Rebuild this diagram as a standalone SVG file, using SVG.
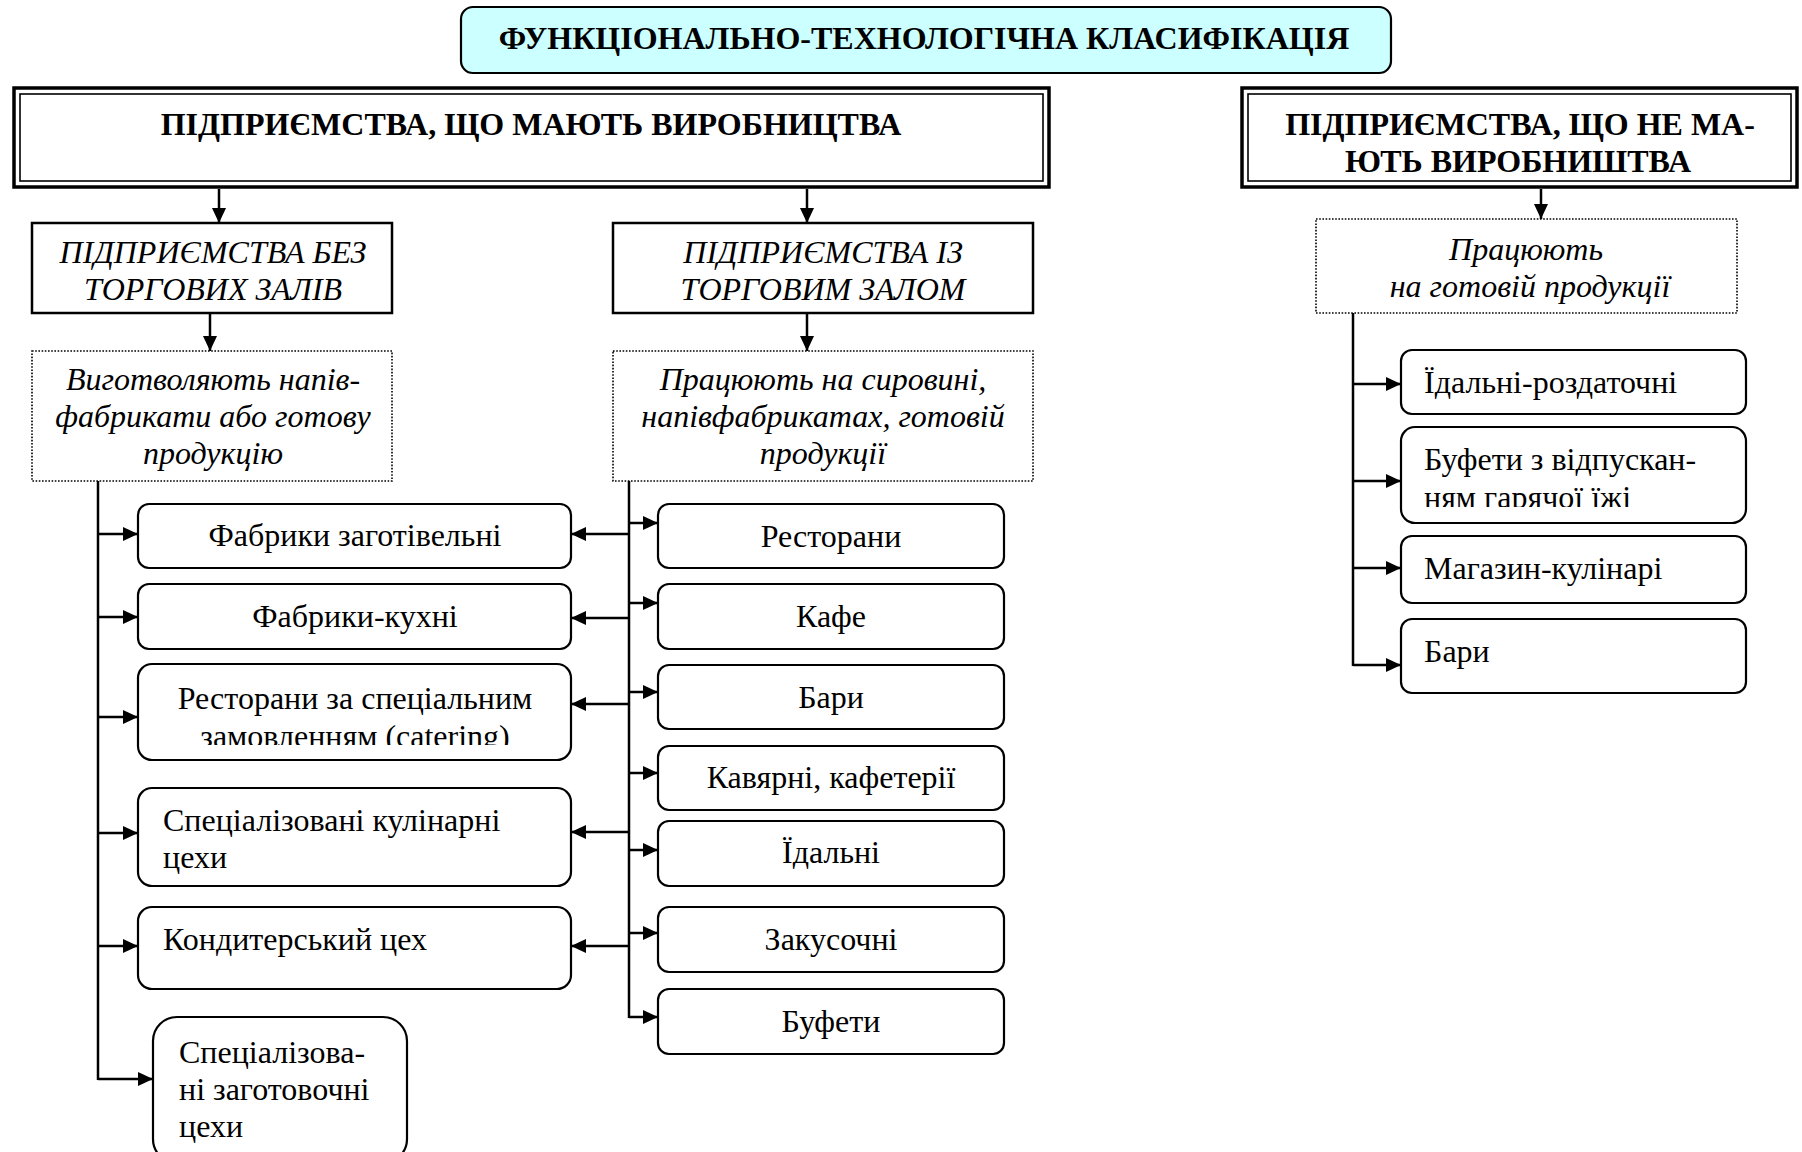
<svg xmlns="http://www.w3.org/2000/svg" width="1802" height="1152" viewBox="0 0 1802 1152">
  <style>
    text { font-family: "Liberation Serif", "Times New Roman", serif; font-size: 32px; fill: #000; }
    .b { font-weight: bold; }
    .i { font-style: italic; }
    .c { text-anchor: middle; }
    .box { fill: #fff; stroke: #000; stroke-width: 2.5; }
    .rbox { fill: #fff; stroke: #000; stroke-width: 2.2; }
    .outer { fill: #fff; stroke: #000; stroke-width: 3.5; }
    .inner { fill: none; stroke: #000; stroke-width: 1.6; }
    .dot { fill: #fff; stroke: #000; stroke-width: 1.6; stroke-dasharray: 1.6 1.6; }
    .ln { fill: none; stroke: #000; stroke-width: 2.5; }
    .arr { fill: none; stroke: #000; stroke-width: 2.5; marker-end: url(#ah); }
  </style>
  <defs>
    <marker id="ah" viewBox="0 0 15 14" refX="15" refY="7" markerWidth="15" markerHeight="14" markerUnits="userSpaceOnUse" orient="auto">
      <path d="M0,0 L15,7 L0,14 z" fill="#000"/>
    </marker>
    <clipPath id="clipCatering"><rect x="138" y="664" width="433" height="81"/></clipPath>
    <clipPath id="clipBuffet"><rect x="1401" y="427" width="345" height="80"/></clipPath>
  </defs>

  <rect width="1802" height="1152" fill="#fff"/>

  <!-- connectors -->
  <g id="connectors">
    <line class="arr" x1="219" y1="189" x2="219" y2="223"/>
    <line class="arr" x1="807" y1="189" x2="807" y2="223"/>
    <line class="arr" x1="1541" y1="189" x2="1541" y2="219"/>
    <line class="arr" x1="210" y1="313" x2="210" y2="351"/>
    <line class="arr" x1="807" y1="313" x2="807" y2="351"/>

    <!-- left trunk -->
    <line class="ln" x1="98" y1="481" x2="98" y2="1080"/>
    <line class="arr" x1="98" y1="534" x2="138" y2="534"/>
    <line class="arr" x1="98" y1="617" x2="138" y2="617"/>
    <line class="arr" x1="98" y1="717" x2="138" y2="717"/>
    <line class="arr" x1="98" y1="833" x2="138" y2="833"/>
    <line class="arr" x1="98" y1="946" x2="138" y2="946"/>
    <line class="arr" x1="98" y1="1079" x2="153" y2="1079"/>

    <!-- middle trunk -->
    <line class="ln" x1="629" y1="481" x2="629" y2="1018"/>
    <line class="arr" x1="629" y1="523" x2="658" y2="523"/>
    <line class="arr" x1="629" y1="603" x2="658" y2="603"/>
    <line class="arr" x1="629" y1="692" x2="658" y2="692"/>
    <line class="arr" x1="629" y1="773" x2="658" y2="773"/>
    <line class="arr" x1="629" y1="850" x2="658" y2="850"/>
    <line class="arr" x1="629" y1="933" x2="658" y2="933"/>
    <line class="arr" x1="629" y1="1017" x2="658" y2="1017"/>
    <line class="arr" x1="629" y1="534" x2="571" y2="534"/>
    <line class="arr" x1="629" y1="618" x2="571" y2="618"/>
    <line class="arr" x1="629" y1="704" x2="571" y2="704"/>
    <line class="arr" x1="629" y1="832" x2="571" y2="832"/>
    <line class="arr" x1="629" y1="946" x2="571" y2="946"/>

    <!-- right trunk -->
    <line class="ln" x1="1353" y1="313" x2="1353" y2="666"/>
    <line class="arr" x1="1353" y1="384" x2="1401" y2="384"/>
    <line class="arr" x1="1353" y1="481" x2="1401" y2="481"/>
    <line class="arr" x1="1353" y1="568" x2="1401" y2="568"/>
    <line class="arr" x1="1353" y1="665" x2="1401" y2="665"/>
  </g>

  <!-- top heading -->
  <g id="title">
    <rect x="461" y="7" width="930" height="66" rx="12" fill="#ccffff" stroke="#000" stroke-width="2.2"/>
    <text class="b c" x="924" y="49">ФУНКЦІОНАЛЬНО-ТЕХНОЛОГІЧНА КЛАСИФІКАЦІЯ</text>
  </g>

  <g id="with-production">
    <rect class="outer" x="14" y="88" width="1035" height="99"/>
    <rect class="inner" x="20" y="94" width="1023" height="87"/>
    <text class="b c" x="531" y="135">ПІДПРИЄМСТВА, ЩО МАЮТЬ ВИРОБНИЦТВА</text>
  </g>

  <g id="without-production">
    <rect class="outer" x="1242" y="88" width="555" height="99"/>
    <rect class="inner" x="1248" y="94" width="543" height="87"/>
    <text class="b c" x="1520" y="135">ПІДПРИЄМСТВА, ЩО НЕ МА-</text>
    <text class="b c" x="1518" y="172">ЮТЬ ВИРОБНИШТВА</text>
  </g>

  <g id="no-hall">
    <rect class="box" x="32" y="223" width="360" height="90"/>
    <text class="i c" x="213" y="263">ПІДПРИЄМСТВА БЕЗ</text>
    <text class="i c" x="213" y="300">ТОРГОВИХ ЗАЛІВ</text>
  </g>

  <g id="with-hall">
    <rect class="box" x="613" y="223" width="420" height="90"/>
    <text class="i c" x="823" y="263">ПІДПРИЄМСТВА ІЗ</text>
    <text class="i c" x="823" y="300">ТОРГОВИМ ЗАЛОМ</text>
  </g>

  <g id="no-hall-note">
    <rect class="dot" x="32" y="351" width="360" height="130"/>
    <text class="i c" x="213" y="390">Виготволяють напів-</text>
    <text class="i c" x="213" y="427">фабрикати або готову</text>
    <text class="i c" x="213" y="464">продукцію</text>
  </g>

  <g id="with-hall-note">
    <rect class="dot" x="613" y="351" width="420" height="130"/>
    <text class="i c" x="823" y="390">Працюють на сировині,</text>
    <text class="i c" x="823" y="427">напівфабрикатах, готовій</text>
    <text class="i c" x="823" y="464">продукції</text>
  </g>

  <g id="ready-note">
    <rect class="dot" x="1316" y="219" width="421" height="94"/>
    <text class="i c" x="1526" y="260">Працюють</text>
    <text class="i c" x="1530" y="297">на готовій продукції</text>
  </g>

  <!-- left column -->
  <g id="procurement-factories">
    <rect class="rbox" x="138" y="504" width="433" height="64" rx="11"/>
    <text class="c" x="355" y="546">Фабрики заготівельні</text>
  </g>
  <g id="factory-kitchens">
    <rect class="rbox" x="138" y="584" width="433" height="65" rx="11"/>
    <text class="c" x="355" y="627">Фабрики-кухні</text>
  </g>
  <g id="catering">
    <rect class="rbox" x="138" y="664" width="433" height="96" rx="14"/>
    <g clip-path="url(#clipCatering)">
      <text class="c" x="355" y="709">Ресторани за спеціальним</text>
      <text class="c" x="355" y="747">замовленням (catering)</text>
    </g>
  </g>
  <g id="culinary-shops">
    <rect class="rbox" x="138" y="788" width="433" height="98" rx="14"/>
    <text x="163" y="831">Спеціалізовані кулінарні</text>
    <text x="163" y="868">цехи</text>
  </g>
  <g id="confectionery">
    <rect class="rbox" x="138" y="907" width="433" height="82" rx="14"/>
    <text x="163" y="950">Кондитерський цех</text>
  </g>
  <g id="prep-shops">
    <rect class="rbox" x="153" y="1017" width="254" height="146" rx="24"/>
    <text x="179" y="1063">Спеціалізова-</text>
    <text x="179" y="1100">ні заготовочні</text>
    <text x="179" y="1137">цехи</text>
  </g>

  <!-- middle column -->
  <g id="restaurants">
    <rect class="rbox" x="658" y="504" width="346" height="64" rx="11"/>
    <text class="c" x="831" y="547">Ресторани</text>
  </g>
  <g id="cafes">
    <rect class="rbox" x="658" y="584" width="346" height="65" rx="11"/>
    <text class="c" x="831" y="627">Кафе</text>
  </g>
  <g id="bars">
    <rect class="rbox" x="658" y="665" width="346" height="64" rx="11"/>
    <text class="c" x="831" y="708">Бари</text>
  </g>
  <g id="coffee-houses">
    <rect class="rbox" x="658" y="746" width="346" height="64" rx="11"/>
    <text class="c" x="831" y="788">Кавярні, кафетерії</text>
  </g>
  <g id="canteens">
    <rect class="rbox" x="658" y="821" width="346" height="65" rx="11"/>
    <text class="c" x="831" y="863">Їдальні</text>
  </g>
  <g id="snack-bars">
    <rect class="rbox" x="658" y="907" width="346" height="65" rx="11"/>
    <text class="c" x="831" y="950">Закусочні</text>
  </g>
  <g id="buffets">
    <rect class="rbox" x="658" y="989" width="346" height="65" rx="11"/>
    <text class="c" x="831" y="1032">Буфети</text>
  </g>

  <!-- right column -->
  <g id="distribution-canteens">
    <rect class="rbox" x="1401" y="350" width="345" height="64" rx="11"/>
    <text x="1424" y="393">Їдальні-роздаточні</text>
  </g>
  <g id="hot-food-buffets">
    <rect class="rbox" x="1401" y="427" width="345" height="96" rx="14"/>
    <g clip-path="url(#clipBuffet)">
      <text x="1424" y="470">Буфети з відпускан-</text>
      <text x="1424" y="508">ням гарячої їжі</text>
    </g>
  </g>
  <g id="culinary-stores">
    <rect class="rbox" x="1401" y="536" width="345" height="67" rx="11"/>
    <text x="1424" y="579">Магазин-кулінарі</text>
  </g>
  <g id="bars-ready">
    <rect class="rbox" x="1401" y="619" width="345" height="74" rx="11"/>
    <text x="1424" y="662">Бари</text>
  </g>
</svg>
